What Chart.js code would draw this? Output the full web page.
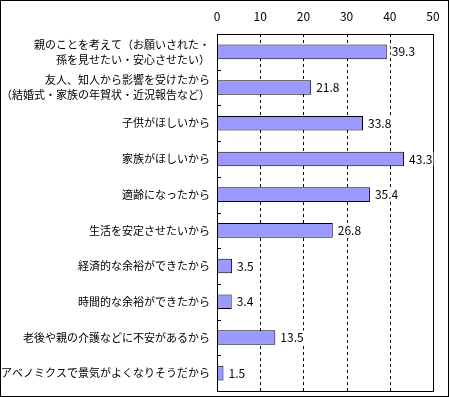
<!DOCTYPE html>
<html>
<head>
<meta charset="utf-8">
<script src="https://cdn.jsdelivr.net/npm/chart.js@4"></script>
<style>
  html, body { margin: 0; padding: 0; background: #fff; }
  #wrap { width: 450px; height: 397px; }
</style>
</head>
<body>
<div id="wrap"><canvas id="c" width="450" height="397"></canvas></div>
<script>
const labels = [
  ["親のことを考えて（お願いされた・", "孫を見せたい・安心させたい）"],
  ["友人、知人から影響を受けたから", "（結婚式・家族の年賀状・近況報告など）"],
  "子供がほしいから",
  "家族がほしいから",
  "適齢になったから",
  "生活を安定させたいから",
  "経済的な余裕ができたから",
  "時間的な余裕ができたから",
  "老後や親の介護などに不安があるから",
  "アベノミクスで景気がよくなりそうだから"
];
const values = [39.3, 21.8, 33.8, 43.3, 35.4, 26.8, 3.5, 3.4, 13.5, 1.5];
const xTicks = [0, 10, 20, 30, 40, 50];

const JP = '"Noto Sans CJK JP", "Noto Sans", sans-serif';

// dashed grid, frame, inward category ticks and value labels
const decor = {
  id: "decor",
  beforeDatasetsDraw(chart) {
    const { ctx, chartArea: a, scales } = chart;
    const x = scales.x, y = scales.y;
    ctx.save();
    ctx.strokeStyle = "#000";
    ctx.lineWidth = 1;
    ctx.setLineDash([3, 3]);
    ctx.beginPath();
    xTicks.slice(1, -1).forEach(v => {
      const px = Math.round(x.getPixelForValue(v)) + 0.5;
      ctx.moveTo(px, a.top);
      ctx.lineTo(px, a.bottom);
    });
    ctx.stroke();
    ctx.setLineDash([]);
    ctx.beginPath();
    for (let i = 0; i < labels.length - 1; i++) {
      const py = Math.round((y.getPixelForTick(i) + y.getPixelForTick(i + 1)) / 2) + 0.5;
      ctx.moveTo(a.left, py);
      ctx.lineTo(a.left + 4, py);
    }
    ctx.stroke();
    ctx.restore();
  },
  afterDatasetsDraw(chart) {
    const { ctx, chartArea: a } = chart;
    ctx.save();
    ctx.strokeStyle = "#000";
    ctx.lineWidth = 1;
    ctx.strokeRect(Math.round(a.left) + 0.5, Math.round(a.top) + 0.5,
      Math.round(a.right - a.left), Math.round(a.bottom - a.top));
    ctx.strokeRect(0.5, 0.5, 448, 396);

    ctx.font = "12px " + JP;
    ctx.textBaseline = "middle";
    chart.getDatasetMeta(0).data.forEach((bar, i) => {
      const txt = values[i].toFixed(1);
      const w = ctx.measureText(txt).width;
      const x = bar.x + 5;
      ctx.fillStyle = "#fff";
      ctx.fillRect(x - 1, bar.y - 7, w + 2, 14);
      ctx.fillStyle = "#000";
      ctx.fillText(txt, x, bar.y);
    });
    ctx.restore();
  }
};

new Chart(document.getElementById("c"), {
  type: "bar",
  data: {
    labels,
    datasets: [{
      data: values,
      backgroundColor: "#9999ff",
      borderColor: "#000",
      borderWidth: 1,
      borderSkipped: false,
      barPercentage: 0.41,
      categoryPercentage: 1
    }]
  },
  options: {
    indexAxis: "y",
    animation: false,
    responsive: false,
    layout: { padding: { left: 0, top: 0, right: 17, bottom: 6 } },
    plugins: {
      legend: { display: false },
      tooltip: { enabled: false }
    },
    scales: {
      x: {
        position: "top",
        min: 0,
        max: 50,
        afterBuildTicks(scale) {
          scale.ticks = xTicks.map(v => ({ value: v }));
        },
        afterFit(scale) {
          scale.height = 34;
          scale.paddingLeft = 0;
          scale.paddingRight = 0;
        },
        ticks: {
          color: "#000",
          font: { family: JP, size: 12 },
          padding: 10,
          maxRotation: 0
        },
        grid: { display: false, drawTicks: false },
        border: { display: false }
      },
      y: {
        afterFit(scale) {
          scale.width = 217;
          scale.paddingTop = 0;
          scale.paddingBottom = 0;
        },
        ticks: {
          color: "#000",
          font: { family: JP, size: 11, lineHeight: 1.36 },
          padding: 7,
          autoSkip: false
        },
        grid: { display: false, drawTicks: false },
        border: { display: false }
      }
    }
  },
  plugins: [decor]
});
</script>
</body>
</html>
